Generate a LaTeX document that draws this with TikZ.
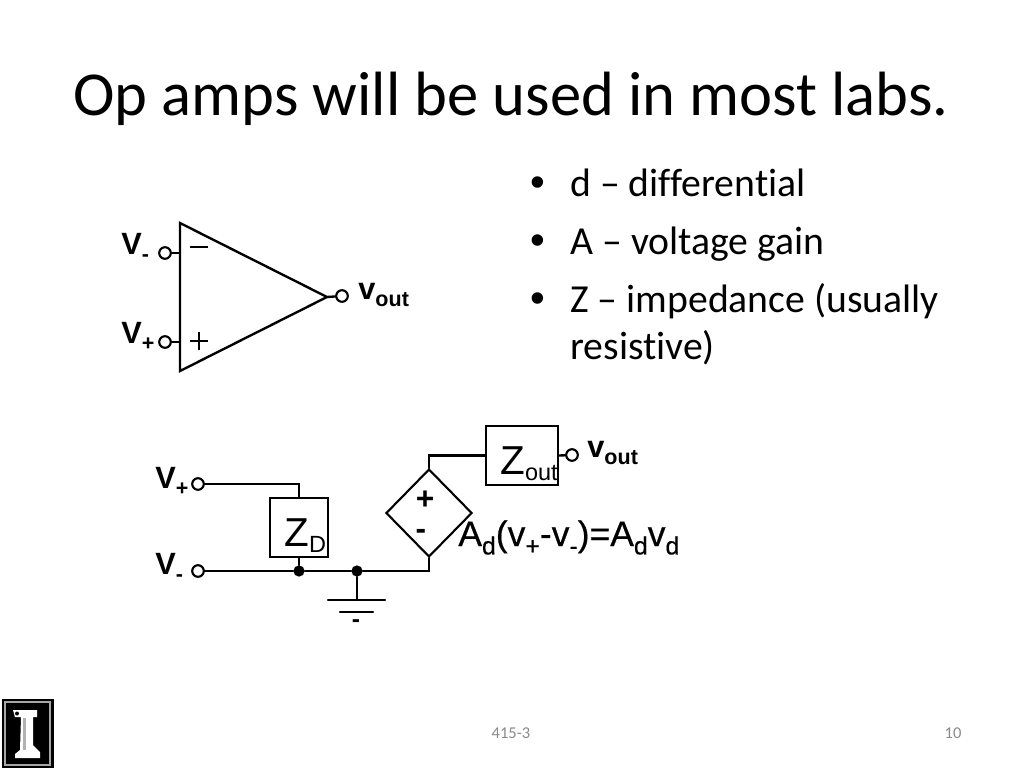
\documentclass[tikz,border=0pt]{standalone}
\usepackage{fontspec}
\setmainfont{Carlito}
\newfontfamily\labelfont{Liberation Sans}
\newfontfamily\gainfont[FakeBold=0.5]{Liberation Sans}
\usetikzlibrary{shapes.geometric}
\newcommand{\lowsub}[1]{\raisebox{-0.45ex}{\scalebox{0.7}{#1}}}
\newcommand{\zsub}[1]{\raisebox{-0.3ex}{\scalebox{0.58}{#1}}}
\definecolor{footgray}{RGB}{137,137,137}
\tikzset{
	wire/.style={line width=1.35pt,line cap=round},
	term/.style={circle,draw,line width=1.2pt,fill=white,minimum size=6.6pt,inner sep=0pt},
	blockbox/.style={draw,line width=1.2pt,fill=white,inner sep=0pt},
	vlabel/.style={font=\labelfont\bfseries\fontsize{17.5}{20}\selectfont,inner sep=0pt},
	zlabel/.style={font=\labelfont\fontsize{23}{26}\selectfont,inner sep=0pt},
	dot/.style={circle,fill=black,minimum size=6.4pt,inner sep=0pt},
	bullet/.style={font=\addfontfeature{Ligatures=NoCommon}\fontsize{22.6}{26}\selectfont,anchor=base west,inner sep=0pt},
	bulletdot/.style={font=\labelfont\fontsize{24}{26}\selectfont,anchor=base west,inner sep=0pt},
	foot/.style={font=\fontsize{9.4}{11}\selectfont,text=footgray,inner sep=0pt},
}
\begin{document}
\begin{tikzpicture}[x=0.02cm,y=-0.02cm]
\useasboundingbox (0,0) rectangle (1024,768);

% Title
\node[font=\fontsize{35.6}{40}\selectfont,inner sep=0pt] (title) at (511,99) {Op amps will be used in most labs.};

% Bullets
\node[bulletdot] (dot1) at (530,196) {•};
\node[bullet] (txt1) at (570,196) {d – differential};
\node[bulletdot] (dot2) at (530,254) {•};
\node[bullet] (txt2) at (570,254) {A – voltage gain};
\node[bulletdot] (dot3) at (530,312) {•};
\node[bullet] (txt3) at (570,312) {Z – impedance (usually};
\node[bullet] (txt4) at (570,359) {resistive)};

% Op amp symbol
\coordinate (ampTop) at (180,223);
\coordinate (ampBot) at (180,371);
\coordinate (ampOut) at (327,297);
\coordinate (ampMinus) at (180,253);
\coordinate (ampPlus) at (180,342);
\draw[wire,line join=miter] (ampTop) -- (ampOut) -- (ampBot) -- cycle;
\node[term] (tMinus) at (165,253) {};
\node[term] (tPlus) at (165,342) {};
\node[term] (tOut) at (342,296) {};
\draw[wire] (tMinus) -- (ampMinus);
\draw[wire] (tPlus) -- (ampPlus);
\draw[wire] (ampOut) -- (tOut);
\draw[line width=0.8pt] (190,247) -- (208,247);
\draw[line width=0.8pt] (190,341) -- (208,341) (199,332) -- (199,350);
\node[vlabel,anchor=base west] (lMinus) at (121,254) {V\lowsub{-}};
\node[vlabel,anchor=base west] (lPlus) at (121,343) {V\lowsub{+}};
\node[vlabel,anchor=base west] (lOut) at (358,299) {v\lowsub{out}};

% Equivalent circuit
\node[term] (tvp) at (198,484) {};
\node[term] (tvm) at (198,571) {};
\node[blockbox,minimum width=33pt,minimum height=33.5pt] (zd) at (299,527.5) {};
\node[blockbox,minimum width=41pt,minimum height=33.5pt] (zout) at (522,455.5) {};
\node[diamond,draw,line width=1.2pt,fill=white,minimum width=49pt,minimum height=50pt,inner sep=0pt] (src) at (429,513) {};
\node[term] (tvo) at (572,455) {};
\node[dot] (j1) at (299,571) {};
\node[dot] (j2) at (357,571) {};
\coordinate (gnd) at (357,600);

% Wires
\draw[wire] (tvp) -| (zd.north);
\draw[wire] (zd.south) -- (j1);
\draw[wire] (tvm) -- (j1) -- (j2) -| (src.south);
\draw[wire] (src.north) |- (zout.west);
\draw[wire] (zout.east) -- (tvo);
\draw[wire] (j2) -- (gnd);
\draw[wire] (328,600) -- (385,600);
\draw[wire] (340,612) -- (373,612);
\node[font=\labelfont\bfseries\fontsize{14}{16}\selectfont,inner sep=0pt] (gndMark) at (356,624) {-};

% Circuit labels
\node[vlabel,anchor=base west] (lvp) at (155,488) {V\lowsub{+}};
\node[vlabel,anchor=base west] (lvm) at (155,574) {V\lowsub{-}};
\node[vlabel,anchor=base west] (lvo) at (587,457) {v\lowsub{out}};
\node[zlabel,anchor=base west] (lzd) at (284,546) {Z\zsub{D}};
\node[zlabel,anchor=base west] (lzo) at (500,474) {Z\zsub{out}};
\node[font=\labelfont\bfseries\fontsize{18}{20}\selectfont,inner sep=0pt] (srcPlus) at (425,500) {+};
\node[font=\labelfont\bfseries\fontsize{18}{20}\selectfont,inner sep=0pt] (srcMinus) at (421,534) {-};
\node[font=\gainfont\fontsize{20.2}{23}\selectfont,anchor=base west,inner sep=0pt] (lgain) at (458,546) {A\lowsub{d}(v\lowsub{+}-v\lowsub{-})=A\lowsub{d}v\lowsub{d}};

% Footer
\node[foot] (fcenter) at (511,733) {415-3};
\node[foot] (fnum) at (953,733) {10};

% Logo
\fill[black] (2,699) rectangle (54,768);
\draw[gray!70,line width=0.8pt] (5,702) rectangle (50,765);
\fill[white] (13,710) -- (37,710) -- (37,717) -- (33,717) -- (33,745) -- (40,752) -- (40,758) -- (15,758) -- (15,754) -- (20,750) -- (21,717) -- (15,717) -- cycle;
\fill[black] (17,713.5) circle (2);
\fill[gray!60] (23,718) rectangle (26,750);
\end{tikzpicture}
\end{document}
